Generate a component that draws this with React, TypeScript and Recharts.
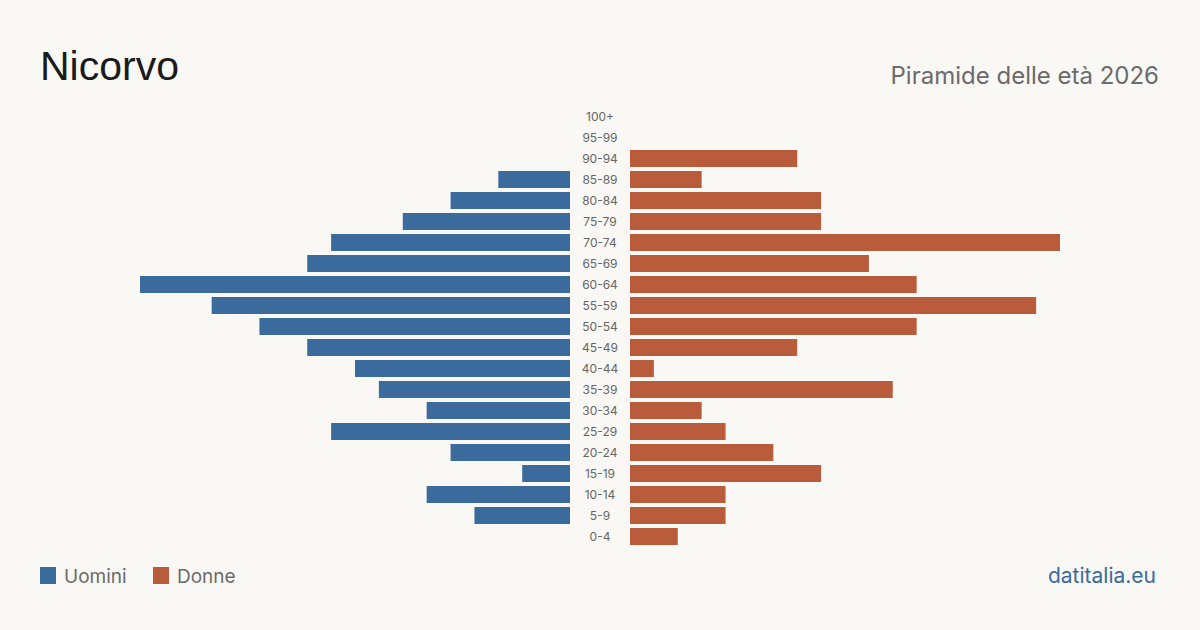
import React from 'react'
import { BarChart, Bar, XAxis, YAxis } from "recharts";

const ageGroups = ["100+", "95-99", "90-94", "85-89", "80-84", "75-79", "70-74", "65-69", "60-64", "55-59", "50-54", "45-49", "40-44", "35-39", "30-34", "25-29", "20-24", "15-19", "10-14", "5-9", "0-4"];
const men = [0, 0, 0, 3, 5, 7, 10, 11, 18, 15, 13, 11, 9, 8, 6, 10, 5, 2, 6, 4, 0];
const women = [0, 0, 7, 3, 8, 8, 18, 10, 12, 17, 12, 7, 1, 11, 3, 4, 6, 8, 4, 4, 2];

const BLUE = "#3a6b9c";
const ORANGE = "#b95c3c";
const FONT = "Inter, 'Noto Sans', sans-serif";
const MAX = 18;

function CenterTick(props: any) {
    const { y, payload } = props;
    return (
        <text x={30} y={y} dy={4} textAnchor="middle" fontSize={12} fill="#666" fontFamily={FONT}>
            {payload.value}
        </text>
    );
}

function App() {
    const data = ageGroups.map((age, i) => ({ age, men: men[i], women: women[i] }));
    const txt = (fs: number): React.CSSProperties => ({ position: "absolute", fontSize: fs, lineHeight: `${fs}px`, fontFamily: FONT, whiteSpace: "nowrap" });
    return (
        <div style={{ position: "absolute", left: 0, top: 0, width: 1200, height: 630, background: "#f9f8f4", overflow: "hidden" }}>
            <div style={{ ...txt(41), left: 40, top: 46, color: "#1a1a1a", fontFamily: "'Liberation Sans', Arial, sans-serif" }}>Nicorvo</div>
            <div style={{ ...txt(24), right: 41, top: 64, color: "#6b6b6b" }}>Piramide delle età 2026</div>

            <div style={{ position: "absolute", left: 140, top: 106 }}>
                <BarChart layout="vertical" width={430} height={441} data={data} margin={{ top: 0, right: 0, bottom: 0, left: 0 }} barCategoryGap={0}>
                    <XAxis type="number" domain={[0, MAX]} reversed hide />
                    <YAxis type="category" dataKey="age" hide />
                    <Bar dataKey="men" fill={BLUE} barSize={17} isAnimationActive={false} />
                </BarChart>
            </div>
            <div style={{ position: "absolute", left: 570, top: 106 }}>
                <BarChart layout="vertical" width={490} height={441} data={data} margin={{ top: 0, right: 0, bottom: 0, left: 0 }} barCategoryGap={0}>
                    <XAxis type="number" domain={[0, MAX]} hide />
                    <YAxis type="category" dataKey="age" width={60} axisLine={false} tickLine={false} tick={<CenterTick />} interval={0} />
                    <Bar dataKey="women" fill={ORANGE} barSize={17} isAnimationActive={false} />
                </BarChart>
            </div>

            <div style={{ position: "absolute", left: 40, top: 567, width: 16, height: 17, background: BLUE }} />
            <div style={{ ...txt(19), left: 64, top: 567, color: "#6b6b6b" }}>Uomini</div>
            <div style={{ position: "absolute", left: 153, top: 567, width: 16, height: 17, background: ORANGE }} />
            <div style={{ ...txt(19), left: 177, top: 567, color: "#6b6b6b" }}>Donne</div>
            <div style={{ ...txt(21), right: 44, top: 565, color: BLUE }}>datitalia.eu</div>
        </div>
    )
}

export default App
